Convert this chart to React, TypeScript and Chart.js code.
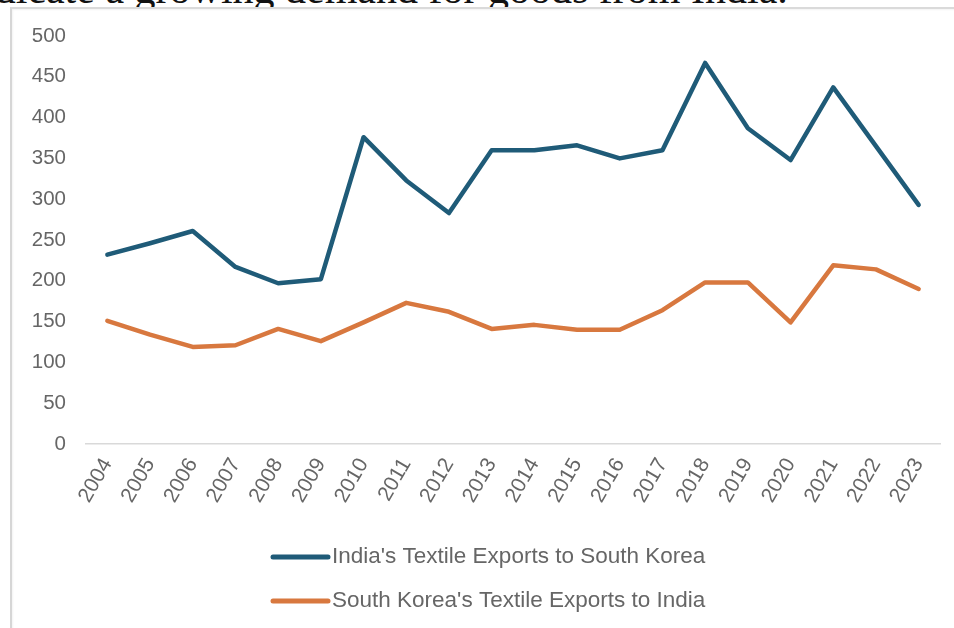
import React, { useEffect, useRef } from "react";
import { Chart, registerables } from "chart.js";

Chart.register(...registerables);

const years = [
  "2004", "2005", "2006", "2007", "2008", "2009", "2010", "2011", "2012", "2013",
  "2014", "2015", "2016", "2017", "2018", "2019", "2020", "2021", "2022", "2023",
];
const indiaToKorea = [232, 246, 261, 217, 197, 202, 376, 323, 283, 360, 360, 366, 350, 360, 467, 387, 348, 437, 365, 293];
const koreaToIndia = [151, 134, 119, 121, 141, 126, 149, 173, 162, 141, 146, 140, 140, 164, 198, 198, 149, 219, 214, 190];
const seriesNames = ["India's Textile Exports to South Korea", "South Korea's Textile Exports to India"];
const seriesColors = ["#1f5b78", "#d8783f"];
const yMin = 0;
const yMax = 500;
const yStep = 50;
const titleText = "indicate a growing demand for goods from India.";

const FONT = "'Liberation Sans', Arial, sans-serif";
const TEXT_COLOR = "#666666";

const stackedLegend = {
  id: "stackedLegend",
  afterDraw(chart: any) {
    const ctx = chart.ctx;
    const area = chart.chartArea;
    ctx.save();
    chart.data.datasets.forEach((ds: any, i: number) => {
      const y = area.bottom + 113 + i * 44;
      const x0 = 273;
      const x1 = 328;
      ctx.beginPath();
      ctx.strokeStyle = ds.borderColor;
      ctx.lineWidth = 5;
      ctx.lineCap = "round";
      ctx.moveTo(x0, y);
      ctx.lineTo(x1, y);
      ctx.stroke();
      ctx.fillStyle = TEXT_COLOR;
      ctx.font = `22.5px ${FONT}`;
      ctx.textBaseline = "middle";
      ctx.textAlign = "left";
      ctx.fillText(ds.label, x1 + 4, y);
    });
    ctx.restore();
  },
};

export default function App() {
  const canvasRef = useRef<HTMLCanvasElement | null>(null);

  useEffect(() => {
    const canvas = canvasRef.current;
    if (!canvas) return;
    const chart = new Chart(canvas, {
      type: "line",
      data: {
        labels: years,
        datasets: [
          {
            label: seriesNames[0],
            data: indiaToKorea,
            borderColor: seriesColors[0],
            backgroundColor: seriesColors[0],
            borderWidth: 4.5,
            pointRadius: 0,
            tension: 0,
            borderJoinStyle: "round",
            borderCapStyle: "round",
          },
          {
            label: seriesNames[1],
            data: koreaToIndia,
            borderColor: seriesColors[1],
            backgroundColor: seriesColors[1],
            borderWidth: 4.5,
            pointRadius: 0,
            tension: 0,
            borderJoinStyle: "round",
            borderCapStyle: "round",
          },
        ],
      },
      options: {
        responsive: false,
        animation: false,
        events: [],
        layout: { padding: { top: 36, right: 14, left: 0, bottom: 0 } },
        plugins: {
          legend: { display: false },
          tooltip: { enabled: false },
          title: { display: false },
        },
        scales: {
          x: {
            offset: true,
            grid: { display: false, drawTicks: false },
            border: { display: true, color: "#d9d9d9", width: 1.5 },
            ticks: {
              color: TEXT_COLOR,
              font: { family: FONT, size: 21 },
              minRotation: 60,
              maxRotation: 60,
              autoSkip: false,
              padding: 10,
            },
            afterFit(scale: any) {
              scale.height = 184;
            },
          },
          y: {
            min: yMin,
            max: yMax,
            grid: { display: false, drawTicks: false },
            border: { display: false },
            ticks: {
              stepSize: yStep,
              color: TEXT_COLOR,
              font: { family: FONT, size: 20.5 },
              padding: 20,
            },
            afterFit(scale: any) {
              scale.width = 86;
            },
          },
        },
      },
      plugins: [stackedLegend],
    } as any);
    return () => chart.destroy();
  }, []);

  return (
    <div
      style={{
        position: "fixed",
        left: 0,
        top: 0,
        width: 954,
        height: 628,
        overflow: "hidden",
        background: "#ffffff",
      }}
    >
      <div
        style={{
          position: "absolute",
          left: -38,
          top: -32,
          whiteSpace: "nowrap",
          fontFamily: "'Liberation Serif', 'Times New Roman', serif",
          fontSize: 42,
          lineHeight: "42px",
          color: "#111111",
        }}
      >
        {titleText}
      </div>
      <div
        style={{
          position: "absolute",
          left: 10,
          top: 7,
          width: 1000,
          height: 700,
          borderLeft: "2px solid #d6d6d6",
          borderTop: "2px solid #dadada",
          boxShadow: "inset 1px 1px 2px rgba(0,0,0,0.05)",
          background: "#ffffff",
        }}
      />
      <canvas
        ref={canvasRef}
        width={954}
        height={628}
        style={{ position: "absolute", left: 0, top: 0, width: 954, height: 628 }}
      />
    </div>
  );
}
